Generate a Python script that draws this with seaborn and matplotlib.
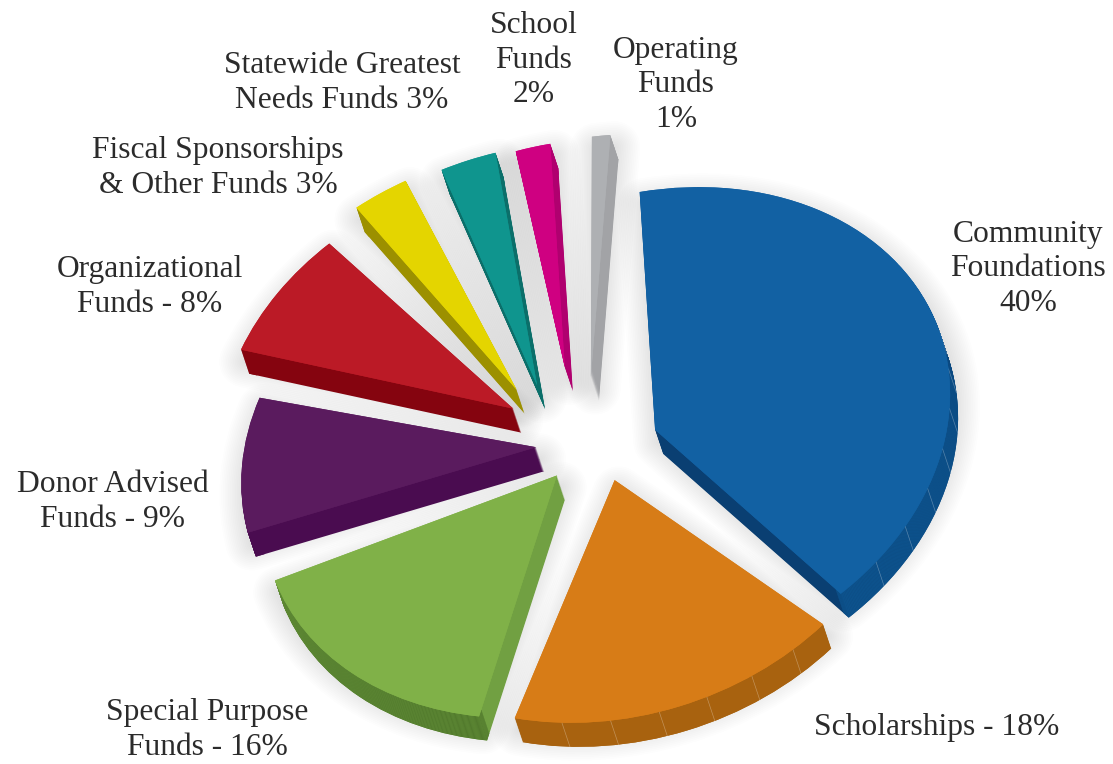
import math
import matplotlib
matplotlib.use("Agg")
import matplotlib.pyplot as plt
from matplotlib.transforms import Affine2D
import numpy as np
import seaborn as sns

# -----------------------------
# Data
# -----------------------------
funds = ["Community\nFoundations\n40%", "Scholarships - 18%", "Special Purpose\nFunds - 16%",
         "Donor Advised\nFunds - 9%", "Organizational\nFunds - 8%",
         "Fiscal Sponsorships\n& Other Funds 3%", "Statewide Greatest\nNeeds Funds 3%",
         "School\nFunds\n2%", "Operating\nFunds\n1%"]
shares = [40, 18, 16, 9, 8, 3, 3, 2, 1]

# -----------------------------
# Styles
# -----------------------------
top_colors = ["#1261a3", "#d77c17", "#80b148", "#5a1b5e", "#bb1a26", "#e4d500", "#0f958e", "#cf0081", "#aeb0b3"]
cut_colors = ["#0a3f72", "#a8620f", "#71a042", "#4a0c50", "#85040f", "#9c9000", "#0b6f6a", "#b0006f", "#a2a3a6"]
rim_colors = ["#0e5590", "#a8620f", "#527a2d", "#4a0c50", "#85040f", "#9c9000", "#0b6f6a", "#b0006f", "#a2a3a6"]
explode = [0.2, 0.15, 0.2, 0.22, 0.3, 0.26, 0.26, 0.33, 0.28]
# the original is a tilted 3D pie, so each slice sits a little off the flat layout
turn = [0, 6, 10.5, 5.5, 3.2, -2.5, -5.7, -3.6, -6.8]
scale = [1.0, 1.0, 1.0, 1.0, 1.0, 1.0, 1.0, 0.94, 1.0]
shift_x = [0, 5, -2, 1, -16, -48, -45, -24, -12]
shift_y = [2, 0, -4, 6, 7, 0, 1, 1, -1]
facets = [True, True, False, False, False, False, False, False, False]
label_pos = [(1028, 269), (937, 727), (207, 730), (113, 502), (150, 287),
             (218, 168), (342, 83), (534, 60), (676, 85)]

W, H = 1113, 764
cx, cy = 600, 445
rx, ry = 295, 240
depth_x, depth_y = 8, 24
layers = 24
tilt = 0.15
facet_step = 9.5

sns.set_theme(style="white")
plt.rcParams["font.family"] = ["Liberation Serif", "DejaVu Serif"]

fig = plt.figure(figsize=(W / 100, H / 100), dpi=100)
ax = fig.add_axes([0, 0, 1, 1])


def draw_pie(colors, k=0.0, ring=None, **props):
    wedges, _ = ax.pie(shares, explode=explode, colors=colors, startangle=93,
                       counterclock=False, wedgeprops={"linewidth": 0, **props})
    for i, w in enumerate(wedges):
        a = math.radians(turn[i])
        x, y = w.center
        x0 = x * math.cos(a) - y * math.sin(a) + shift_x[i] / rx + k * depth_x / rx
        y0 = x * math.sin(a) + y * math.cos(a) - shift_y[i] / ry - k * depth_y / ry
        w.set_center((x0, y0))
        w.set_theta1(w.theta1 + turn[i])
        w.set_theta2(w.theta2 + turn[i])
        w.set_radius(scale[i])
        if ring is not None:
            w.set_width(ring)
        # tilt of the ellipse, pivoting on the tip of the slice
        w.set_transform(Affine2D.from_values(1, tilt, 0, 1, 0, -tilt * x0) + ax.transData)
    return wedges


# soft shadow round the slices
for lw in np.arange(2, 38, 2.5):
    draw_pie(["#6e6e6e"] * len(shares), k=0.5, linewidth=lw, edgecolor="#6e6e6e",
             alpha=0.012, joinstyle="round")

# side faces, stacked from the bottom up
for i in range(layers, 0, -1):
    draw_pie(cut_colors, k=i / layers)
    draw_pie(rim_colors, k=i / layers, ring=0.03)

# thin seams on the rim of the big slices
top_wedges = draw_pie(top_colors)
for w, has_seams in zip(top_wedges, facets):
    if not has_seams:
        continue
    for t in np.arange(w.theta1 + facet_step, w.theta2, facet_step):
        px = w.r * math.cos(math.radians(t))
        py = w.center[1] + w.r * math.sin(math.radians(t)) + tilt * px
        px = w.center[0] + px
        ax.plot([px, px + depth_x / rx], [py, py - depth_y / ry], color="white", lw=0.5, alpha=0.3, zorder=1)

draw_pie(top_colors)

ax.set_aspect("auto")
ax.set_xlim(-cx / rx, (W - cx) / rx)
ax.set_ylim(-(H - cy) / ry, cy / ry)
ax.axis("off")

for name, (x, y) in zip(funds, label_pos):
    fig.text(x / W, 1 - y / H, name, ha="center", va="center", fontsize=22.7,
             color="#2b2b2b", linespacing=1.24)

fig.savefig("out.png", dpi=100, facecolor="white")
